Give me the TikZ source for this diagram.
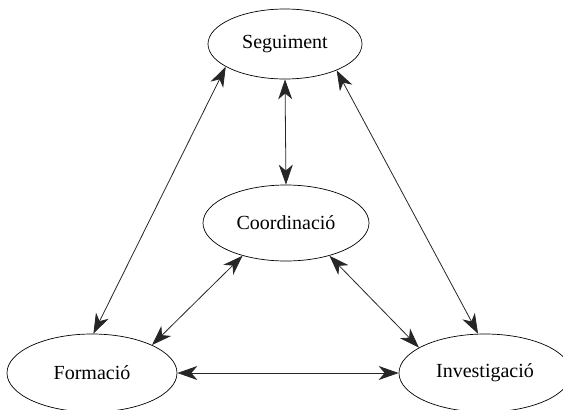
\documentclass[tikz,border=0pt]{standalone}
\usepackage{fontspec}
\setmainfont{Liberation Serif}
\usetikzlibrary{shapes.geometric,arrows.meta}
\begin{document}
\begin{tikzpicture}[x=1pt,y=-1pt,
  ell/.style={draw, ellipse, line width=0.7pt, inner sep=0pt, font=\fontsize{20}{24}\selectfont},
  conn/.style={line width=0.8pt, draw=black!85, {Stealth[length=20pt,width=14pt,inset=6pt]}-{Stealth[length=20pt,width=14pt,inset=6pt]}}]
\useasboundingbox (0,0) rectangle (563,410);
\node[ell, minimum width=154pt, minimum height=70pt] (seg) at (285,44) {Seguiment};
\node[ell, minimum width=166pt, minimum height=76pt] (coo) at (286,223) {Coordinació};
\node[ell, minimum width=170pt, minimum height=78pt] (for) at (92,373) {Formació};
\node[ell, minimum width=172pt, minimum height=78pt] (inv) at (485,373) {Investigació};
\draw[conn] (seg.201) -- (for.88);
\draw[conn] (seg.south) -- (coo.north);
\draw[conn] (seg.-27) -- (inv.100);
\draw[conn] (coo.217) -- (for.25);
\draw[conn] (coo.-37) -- (inv.159);
\draw[conn] (for.east) -- (inv.west);
\end{tikzpicture}
\end{document}
